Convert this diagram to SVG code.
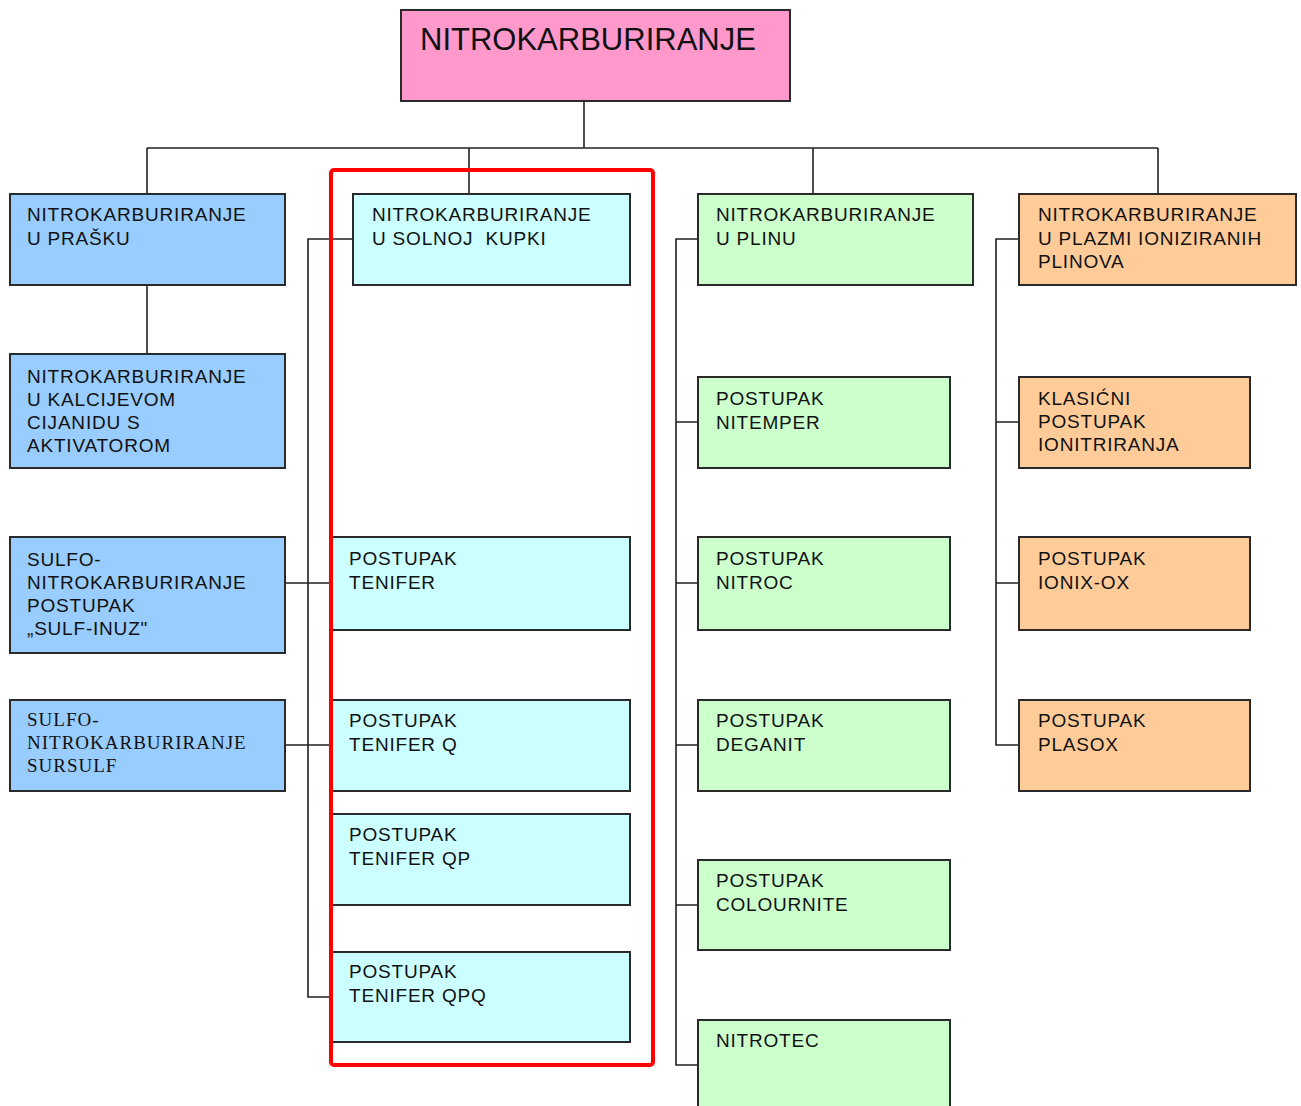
<svg xmlns="http://www.w3.org/2000/svg" width="1301" height="1106" viewBox="0 0 1301 1106">
<style>
.box{stroke:#2a2a2a;stroke-width:2}
.root{fill:#FF99CC}
.blue{fill:#99CCFF}
.cyan{fill:#CCFFFF}
.green{fill:#CCFFCC}
.orange{fill:#FFCC99}
.t{font-family:"Liberation Sans",Arial,sans-serif;font-size:19px;letter-spacing:0.8px;fill:#111}
.ts{font-family:"Liberation Serif","Times New Roman",serif;font-size:19px;letter-spacing:1px;fill:#111}
.title{font-family:"Liberation Sans",Arial,sans-serif;font-size:31px;fill:#111}
.conn{stroke:#222;stroke-width:1.6;fill:none}
</style>
<rect width="1301" height="1106" fill="#ffffff"/>
<g id="connectors" class="conn">
<path d="M584 101V148M147 148H1158M147 148V194M469 148V194M813 148V194M1158 148V194"/>
<path d="M147 285V354"/>
<path d="M353 239H308V997H332M285 583H332M285 745H332"/>
<path d="M698 239H676V1065H698M676 422H698M676 583H698M676 745H698M676 905H698"/>
<path d="M1019 239H996V745H1019M996 422H1019M996 583H1019"/>
</g>
<g id="n-root"><rect class="box root" x="401" y="10" width="389" height="91"/><text class="title" x="420" y="50">NITROKARBURIRANJE</text></g>
<g id="n-prasak"><rect class="box blue" x="10" y="194" width="275" height="91"/><text class="t" x="27" y="221">NITROKARBURIRANJE<tspan x="27" dy="23.5">U PRAŠKU</tspan></text></g>
<g id="n-kalcij"><rect class="box blue" x="10" y="354" width="275" height="114"/><text class="t" x="27" y="383">NITROKARBURIRANJE<tspan x="27" dy="23">U KALCIJEVOM</tspan><tspan x="27" dy="23">CIJANIDU S</tspan><tspan x="27" dy="23">AKTIVATOROM</tspan></text></g>
<g id="n-sulfinuz"><rect class="box blue" x="10" y="537" width="275" height="116"/><text class="t" x="27" y="566">SULFO-<tspan x="27" dy="23">NITROKARBURIRANJE</tspan><tspan x="27" dy="23">POSTUPAK</tspan><tspan x="27" dy="23">„SULF-INUZ"</tspan></text></g>
<g id="n-sursulf"><rect class="box blue" x="10" y="700" width="275" height="91"/><text class="ts" x="27" y="726">SULFO-<tspan x="27" dy="23">NITROKARBURIRANJE</tspan><tspan x="27" dy="23">SURSULF</tspan></text></g>
<g id="n-solna"><rect class="box cyan" x="353" y="194" width="277" height="91"/><text class="t" x="372" y="221" style="white-space:pre">NITROKARBURIRANJE<tspan x="372" dy="23.5">U SOLNOJ  KUPKI</tspan></text></g>
<g id="n-tenifer"><rect class="box cyan" x="332" y="537" width="298" height="93"/><text class="t" x="349" y="565">POSTUPAK<tspan x="349" dy="23.5">TENIFER</tspan></text></g>
<g id="n-teniferq"><rect class="box cyan" x="332" y="700" width="298" height="91"/><text class="t" x="349" y="727">POSTUPAK<tspan x="349" dy="23.5">TENIFER Q</tspan></text></g>
<g id="n-teniferqp"><rect class="box cyan" x="332" y="814" width="298" height="91"/><text class="t" x="349" y="841">POSTUPAK<tspan x="349" dy="23.5">TENIFER QP</tspan></text></g>
<g id="n-teniferqpq"><rect class="box cyan" x="331" y="952" width="299" height="90"/><text class="t" x="349" y="978">POSTUPAK<tspan x="349" dy="23.5">TENIFER QPQ</tspan></text></g>
<g id="n-plin"><rect class="box green" x="698" y="194" width="275" height="91"/><text class="t" x="716" y="221">NITROKARBURIRANJE<tspan x="716" dy="23.5">U PLINU</tspan></text></g>
<g id="n-nitemper"><rect class="box green" x="698" y="377" width="252" height="91"/><text class="t" x="716" y="405">POSTUPAK<tspan x="716" dy="23.5">NITEMPER</tspan></text></g>
<g id="n-nitroc"><rect class="box green" x="698" y="537" width="252" height="93"/><text class="t" x="716" y="565">POSTUPAK<tspan x="716" dy="23.5">NITROC</tspan></text></g>
<g id="n-deganit"><rect class="box green" x="698" y="700" width="252" height="91"/><text class="t" x="716" y="727">POSTUPAK<tspan x="716" dy="23.5">DEGANIT</tspan></text></g>
<g id="n-colournite"><rect class="box green" x="698" y="860" width="252" height="90"/><text class="t" x="716" y="887">POSTUPAK<tspan x="716" dy="23.5">COLOURNITE</tspan></text></g>
<g id="n-nitrotec"><rect class="box green" x="698" y="1020" width="252" height="100"/><text class="t" x="716" y="1047">NITROTEC</text></g>
<g id="n-plazma"><rect class="box orange" x="1019" y="194" width="277" height="91"/><text class="t" x="1038" y="221">NITROKARBURIRANJE<tspan x="1038" dy="23.5">U PLAZMI IONIZIRANIH</tspan><tspan x="1038" dy="23.5">PLINOVA</tspan></text></g>
<g id="n-klasicni"><rect class="box orange" x="1019" y="377" width="231" height="91"/><text class="t" x="1038" y="405">KLASIĆNI<tspan x="1038" dy="23">POSTUPAK</tspan><tspan x="1038" dy="23">IONITRIRANJA</tspan></text></g>
<g id="n-ionixox"><rect class="box orange" x="1019" y="537" width="231" height="93"/><text class="t" x="1038" y="565">POSTUPAK<tspan x="1038" dy="23.5">IONIX-OX</tspan></text></g>
<g id="n-plasox"><rect class="box orange" x="1019" y="700" width="231" height="91"/><text class="t" x="1038" y="727">POSTUPAK<tspan x="1038" dy="23.5">PLASOX</tspan></text></g>
<g id="highlight"><rect x="331" y="170" width="322" height="895" rx="3" fill="none" stroke="#FF0000" stroke-width="4"/></g>
</svg>
